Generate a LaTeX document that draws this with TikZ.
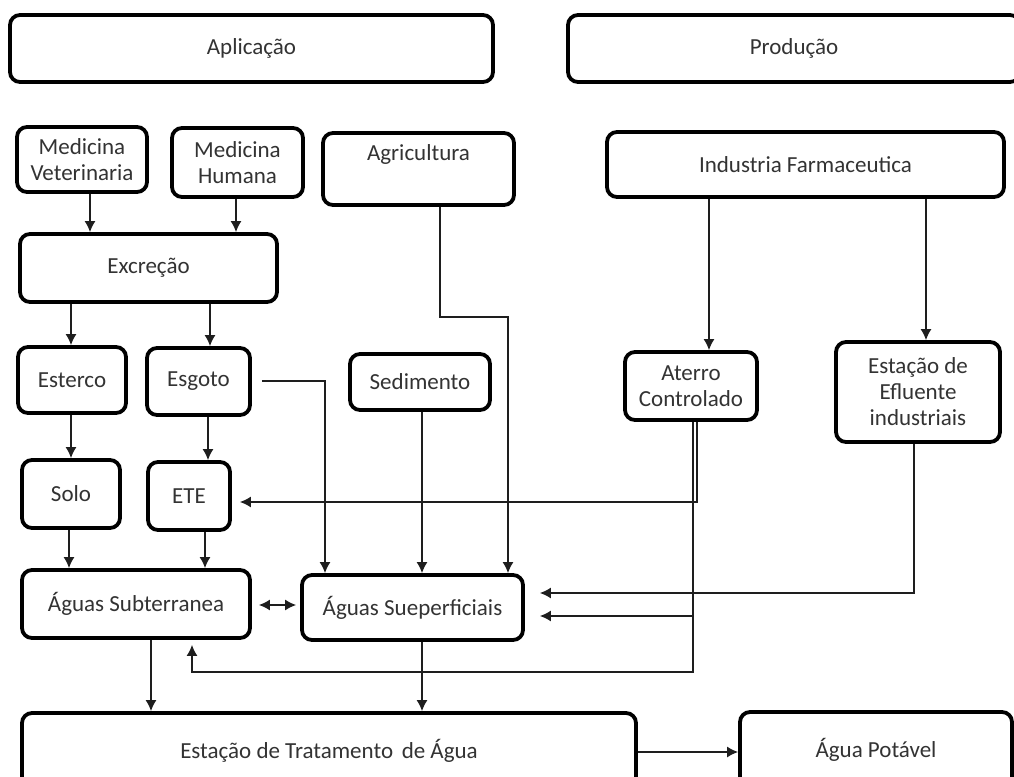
\documentclass[tikz,border=0pt]{standalone}
\usepackage{fontspec}
\setmainfont{Carlito}
\usetikzlibrary{arrows.meta}
\definecolor{txt}{HTML}{333333}
\definecolor{ln}{HTML}{1E1E1E}
\begin{document}
\begin{tikzpicture}[x=1pt,y=-1pt,
  box/.style={draw=black, line width=3.8pt, rounded corners=10pt, inner sep=0pt,
    align=center, text=txt, font=\fontsize{23}{26}\selectfont},
  arr/.style={draw=ln, line width=1.4pt, -{Latex[length=11pt,width=11pt]}},
  dbl/.style={draw=ln, line width=1.4pt, {Latex[length=11pt,width=11pt]}-{Latex[length=11pt,width=11pt]}}
]
\useasboundingbox (0,0) rectangle (1014,776);
\clip (0,0) rectangle (1014,776);
\fill[white] (0,0) rectangle (1014,776);

% boxes
\node[box, minimum width=483pt, minimum height=67pt] (apl) at (251.5,48.5) {Aplicação};
\node[box, minimum width=452pt, minimum height=67pt] (prod) at (794,48.5) {Produção};
\node[box, minimum width=130pt, minimum height=65pt] (medvet) at (82,159.5) {Medicina\\Veterinaria};
\node[box, minimum width=131pt, minimum height=69pt] (medhum) at (237.5,162.5) {Medicina\\Humana};
\node[box, minimum width=191pt, minimum height=72pt] (agri) at (418.5,169) {Agricultura\\[6pt]\mbox{}};
\node[box, minimum width=397pt, minimum height=65pt] (ind) at (805.5,164.5) {Industria Farmaceutica};
\node[box, minimum width=257pt, minimum height=68pt] (exc) at (148.5,268) {Excreção};
\node[box, minimum width=108pt, minimum height=66pt] (esterco) at (72,380) {Esterco};
\node[box, minimum width=103pt, minimum height=67pt] (esgoto) at (198.5,381.5) {Esgoto};
\node[box, minimum width=140pt, minimum height=56pt] (sed) at (420,382) {Sedimento};
\node[box, minimum width=132pt, minimum height=68pt] (aterro) at (691,386) {Aterro\\Controlado};
\node[box, minimum width=164pt, minimum height=100pt] (efl) at (918,392) {Estação de\\Efluente\\industriais};
\node[box, minimum width=98pt, minimum height=68pt] (solo) at (71,494) {Solo};
\node[box, minimum width=82pt, minimum height=68pt] (ete) at (189,496) {ETE};
\node[box, minimum width=228pt, minimum height=68pt] (asub) at (136,604) {Águas Subterranea};
\node[box, minimum width=221pt, minimum height=65pt] (asup) at (412.5,607.5) {Águas Sueperficiais};
\node[box, minimum width=614pt, minimum height=75pt] (eta) at (329,750.5) {Estação de Tratamento\hspace{0.15em} de Água};
\node[box, minimum width=272pt, minimum height=76pt] (pot) at (876,750) {Água Potável};

% helper coordinates
\coordinate (x90) at (90,0);
\coordinate (x236) at (236,0);
\coordinate (x71) at (71,0);
\coordinate (x69) at (69,0);
\coordinate (x210) at (210,0);
\coordinate (x208) at (208,0);
\coordinate (x205) at (205,0);
\coordinate (x325) at (325,0);
\coordinate (x422) at (422,0);
\coordinate (x440) at (440,0);
\coordinate (a1) at (508,317);
\coordinate (x709) at (709,0);
\coordinate (x926) at (926,0);
\coordinate (x697) at (697,0);
\coordinate (x914) at (914,0);
\coordinate (x151) at (151,0);
\coordinate (y381) at (0,381);
\coordinate (y502) at (0,502);
\coordinate (y593) at (0,593);
\coordinate (y605) at (0,605);
\coordinate (y616) at (0,616);
\coordinate (y752) at (0,752);
\coordinate (j1) at (693,672);
\coordinate (j2) at (192,672);

% connectors
\draw[arr] (medvet.south -| x90) -- (exc.north -| x90);
\draw[arr] (medhum.south -| x236) -- (exc.north -| x236);
\draw[arr] (exc.south -| x71) -- (esterco.north -| x71);
\draw[arr] (exc.south -| x210) -- (esgoto.north -| x210);
\draw[arr] (esterco.south -| x71) -- (solo.north -| x71);
\draw[arr] (esgoto.south -| x208) -- (ete.north -| x208);
\draw[arr] (solo.south -| x69) -- (asub.north -| x69);
\draw[arr] (ete.south -| x205) -- (asub.north -| x205);
\draw[arr, shorten <=10pt] (esgoto.east |- y381) -| (asup.north -| x325);
\draw[arr] (sed.south -| x422) -- (asup.north -| x422);
\draw[arr] (agri.south -| x440) |- (a1) -- (asup.north -| a1);
\draw[arr] (ind.south -| x709) -- (aterro.north -| x709);
\draw[arr] (ind.south -| x926) -- (efl.north -| x926);
\draw[arr, shorten >=8pt] (aterro.south -| x697) |- (ete.east |- y502);
\draw[arr, shorten >=15pt] (efl.south -| x914) |- (asup.east |- y593);
\draw[arr, shorten >=15pt] (aterro.south -| j1) |- (asup.east |- y616);
\draw[arr, shorten >=5pt] (aterro.south -| j1) -- (j1) -- (j2) -- (asub.south -| j2);
\draw[dbl, shorten <=7pt, shorten >=4pt] (asub.east |- y605) -- (asup.west |- y605);
\draw[arr] (asub.south -| x151) -- (eta.north -| x151);
\draw[arr] (asup.south -| x422) -- (eta.north -| x422);
\draw[arr] (eta.east |- y752) -- (pot.west |- y752);
\end{tikzpicture}
\end{document}
